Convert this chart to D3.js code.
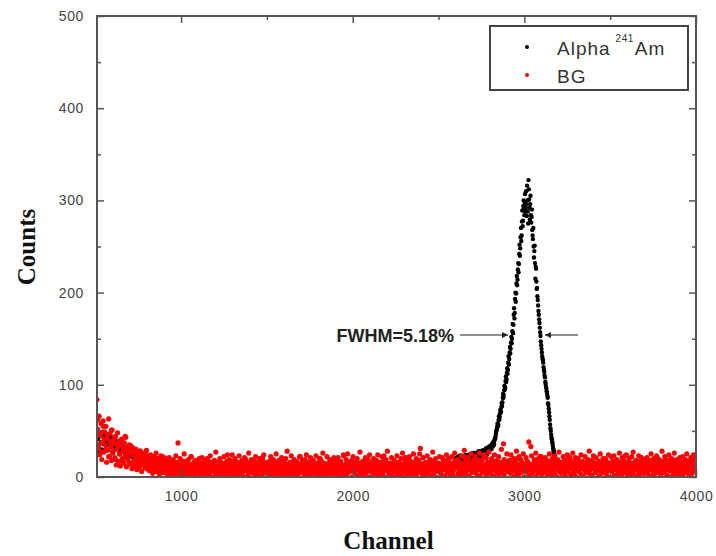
<!DOCTYPE html>
<html><head><meta charset="utf-8">
<script src="https://cdn.jsdelivr.net/npm/d3@7/dist/d3.min.js"></script>
<style>body{margin:0;background:#fff}svg{display:block}</style>
</head><body>
<svg id="c" width="716" height="556"></svg>
<script>
// ---- data ----
const xTicks = [1000, 2000, 3000, 4000];
const xMinorTicks = [1500, 2500, 3500];
const yTicks = [0, 100, 200, 300, 400, 500];
const yMinorTicks = [50, 150, 250, 350, 450];
const seriesNames = ["Alpha", "BG"];

// Alpha 241Am, low-channel part (channels 510, 514, ...)
const alphaLowStart = 510, alphaLowStep = 4;
const alphaLow = [
28,41,33,47,25,44,38,30,49,36, 45,39,48,34,43,37,46,41,35,44,
40,36,43,38,33,41,35,39,31,37, 34,30,36,32,28,35,31,29,33,27,
30,26,29,32,25,28,24,27,30,23, 26,22,25,28,21,24,20,23,26,19,
22,25,19,23,21,18,24,20,17,22, 19,21,17,20,18,22,16,19,17,20,
18,15,19,17,20,16,18,14,17,19, 16,18,14,17,15,19,13,16];

// Alpha 241Am, peak part (channels 2600, 2604, ...)
const alphaPeakStart = 2600, alphaPeakStep = 4;
const alphaPeak = [
18,21,16,19,22,17,20,18,23,19, 20,17,22,19,24,21,18,23,20,22,
22,25,19,23,21,26,22,24,20,25, 24,21,27,23,26,22,28,25,23,27,
27,24,29,26,31,28,25,30,29,33, 31,34,30,36,33,38,35,41,44,49,
52,58,57,66,65,73,71,80,81,90, 89,99,97,109,106,118,116,131,128,141,
139,152,150,166,165,183,178,200,199,218, 214,232,231,252,248,270,262,289,278,300,
284,307,292,296,316,288,322,301,279,305, 276,290,262,270,238,251,215,226,204,196,
186,176,167,157,147,139,131,127,119,114, 108,101,96,91,86,78,70,62,53,46,
41,37,31,28,23,19,16,13,11,9];

// Alpha 241Am, peak part, in-between channels (2602, 2606, ...)
const alphaPeakBStart = 2602, alphaPeakBStep = 4;
const alphaPeakB = [
19,17,21,18,20,23,18,21,19,22, 18,21,20,23,19,22,24,21,19,23,
24,21,23,20,25,22,26,23,21,24, 22,26,24,28,22,25,27,24,26,29,
25,28,27,30,26,29,32,28,31,30, 33,32,35,34,37,36,40,42,47,51,
55,55,62,62,69,70,76,77,86,86, 94,95,104,103,113,112,124,122,135,134,
146,145,158,156,176,172,193,190,210,208, 225,222,242,240,260,256,277,272,294,290,
298,288,310,283,300,275,312,292,296,284, 282,268,258,250,245,232,228,212,205,192,
180,171,162,153,143,135,128,124,116,110, 103,98,93,88,80,74,66,57,50,43,
38,34,29,25,21,17,14,12,10,8];

// Background (channels 510, 514, ...)
const bgStart = 510, bgStep = 4;
const bg = [
84,52,31,66,24,45,58,19,38,61,27,49,35,55,16,42,29,63,22,47,33,18,51,26,40,
36,21,44,13,30,48,17,39,25,12,34,41,20,28,15,37,23,43,11,31,19,26,35,14,29,
24,9,32,17,27,12,21,30,8,25,15,22,11,28,18,6,23,14,20,26,10,16,29,13,19,
21,7,15,24,11,18,4,22,13,9,19,26,6,16,12,20,3,14,23,10,17,5,13,21,8,
12,4,15,9,1,13,7,18,3,11,14,6,10,2,16,8,12,5,37,9,13,0,11,7,15,
6,14,2,10,17,8,12,4,15,1,9,13,22,5,11,7,16,3,12,10,6,14,0,9,13,
3,11,8,15,5,12,1,9,14,7,20,4,13,10,2,16,6,11,8,13,0,15,5,10,12,
9,2,14,7,11,4,16,8,13,1,10,6,15,3,12,24,9,5,14,7,11,2,13,8,17,
4,12,7,15,1,10,13,6,9,3,14,11,5,16,8,0,12,19,7,10,2,15,6,13,9,
11,5,14,8,2,13,10,6,16,3,9,12,7,15,1,11,21,4,13,8,10,5,14,0,12,
7,13,3,10,15,6,12,1,9,14,4,11,8,16,2,12,7,10,5,13,18,3,9,15,6,
14,2,11,8,13,5,10,0,15,7,12,4,9,16,3,11,6,14,1,10,13,22,8,5,12,
6,10,3,14,9,1,12,7,15,4,11,13,2,8,16,6,10,5,12,0,14,9,3,11,20,
8,13,5,10,2,15,7,11,4,14,9,1,12,6,16,10,3,13,8,11,5,17,0,9,14,
3,12,7,15,10,1,13,6,9,24,4,11,14,2,8,12,5,16,10,7,13,0,11,6,15,
10,4,14,8,12,1,9,15,6,11,3,13,7,16,2,10,19,5,12,8,14,0,9,11,6,
13,7,2,11,15,5,9,12,1,14,8,10,4,16,6,12,3,11,23,7,13,9,0,15,10,
5,12,8,14,2,10,13,6,11,0,15,9,4,12,7,16,3,10,14,8,1,11,6,13,21,
9,14,3,11,7,15,10,2,13,6,12,8,16,4,11,1,14,9,5,12,25,7,13,10,3,
12,6,15,9,1,13,10,4,14,8,11,18,2,12,7,16,5,10,13,0,9,15,6,11,14,
7,13,3,10,16,8,12,1,14,9,5,11,20,6,15,2,13,10,4,12,8,17,0,11,14,
10,4,13,8,15,2,11,14,6,9,22,12,3,16,7,10,13,1,15,8,11,5,14,9,19,
6,12,15,3,10,13,8,16,1,11,14,5,9,12,24,7,13,2,15,10,6,11,14,4,17,
13,8,11,1,15,10,6,14,9,12,3,16,7,11,13,5,10,36,2,14,8,12,15,6,11,
9,14,4,12,10,16,7,13,1,11,15,6,20,10,3,14,8,12,5,16,9,11,0,13,7,
12,6,15,10,2,14,8,33,11,4,13,9,16,7,12,1,10,15,5,11,22,8,14,3,13,
10,15,5,12,8,14,1,11,13,6,9,16,3,12,7,19,10,4,14,11,0,13,8,15,6,
11,4,13,9,16,7,12,2,14,10,6,15,8,11,21,3,13,9,12,5,16,10,1,14,7,
8,13,6,15,10,3,12,9,14,1,11,7,16,5,12,10,18,4,13,8,15,2,11,14,9,
12,5,14,10,7,15,1,11,13,8,4,16,9,12,6,20,10,3,14,11,7,13,0,15,9,
6,13,10,15,2,12,8,14,11,4,9,16,7,13,1,10,15,5,12,23,8,14,3,11,9,
14,7,11,3,15,10,5,13,8,16,1,12,9,14,6,11,2,15,10,7,13,19,4,12,8,
10,15,4,12,8,13,1,16,9,11,6,14,3,12,10,7,21,15,5,13,9,2,11,14,6,
13,5,11,8,16,2,12,10,14,7,9,15,1,13,6,11,18,4,14,10,8,12,3,15,9,
11,7,14,2,12,9,15,5,13,10,6,16,1,12,8,14,11,4,13,20,9,7,15];

// Background, further channels (514, 522, ...)
const bgBStart = 514, bgBStep = 8;
const bgB = [
62,35,48,27,55,41,30,46,22,38,51,28,43,19,36,33,25,40,17,31,44,21,29,15,34,
26,14,30,19,24,11,28,17,22,13,25,9,20,16,23,8,18,21,12,19,7,15,22,10,17,
18,9,21,14,6,19,12,23,16,4,20,11,17,25,8,14,19,3,22,13,10,18,15,7,20,
15,21,8,17,12,19,5,23,14,10,18,27,7,16,20,11,13,22,9,17,4,19,14,24,12,
20,10,16,23,7,18,13,21,9,15,26,12,19,6,17,22,11,14,20,8,18,24,13,16,10,
17,22,9,19,14,25,11,18,6,21,15,12,20,28,8,16,23,13,19,10,17,5,22,14,18,
12,19,24,8,16,21,13,18,10,23,15,7,20,17,26,11,14,22,9,19,13,16,21,6,18,
21,14,17,9,23,12,19,25,15,8,18,22,11,16,20,13,27,10,17,14,21,7,19,24,12,
16,20,11,18,24,13,9,22,17,14,19,28,10,15,21,12,18,8,23,16,13,20,26,11,17,
19,13,22,17,10,25,15,20,12,18,31,14,21,9,16,23,11,19,17,27,13,20,8,15,22,
14,21,18,11,24,16,20,9,22,15,26,13,19,17,10,23,14,29,18,12,21,16,25,11,19,
22,15,19,26,12,18,23,10,21,16,27,14,20,17,24,9,18,22,13,30,16,19,11,25,17,
18,24,13,20,16,28,11,22,19,15,25,12,21,17,38,14,23,10,19,26,16,20,13,22,18,
15,21,18,12,25,17,20,9,23,14,19,27,16,11,22,18,13,24,20,10,17,26,14,21,15,
20,13,24,17,10,22,16,19,28,12,18,23,15,21,9,17,25,14,20,11,19,16,24,13,22,
17,23,11,19,15,26,13,21,18,9,24,16,20,12,22,27,14,18,10,23,17,21,15,19,12,
21,14,18,25,12,20,16,23,10,19,15,28,17,22,13,18,24,11,20,16,26,14,19,12,21,
16,22,13,19,25,17,11,21,18,24,15];

// FWHM annotation
const fwhmText = "FWHM=5.18%";
const fwhmLevel = 154;                 // counts at half maximum
const fwhmEdges = [2928, 3091];        // channels of the two half-max edges

// ---- layout ----
const svg = d3.select("#c");
const L = 97, R = 696, T = 16, B = 477;
const x = d3.scaleLinear().domain([510, 4000]).range([L, R]);
const y = d3.scaleLinear().domain([0, 500]).range([B, T]);

const toPts = (arr, start, step) => arr.map((v, i) => ({c: start + i * step, v}));
const alphaPts = toPts(alphaLow, alphaLowStart, alphaLowStep)
  .concat(toPts(alphaPeak, alphaPeakStart, alphaPeakStep))
  .concat(toPts(alphaPeakB, alphaPeakBStart, alphaPeakBStep));
const bgPts = toPts(bg, bgStart, bgStep).concat(toPts(bgB, bgBStart, bgBStep));

svg.append("clipPath").attr("id", "clip").append("rect")
  .attr("x", L).attr("y", T).attr("width", R - L).attr("height", B - T);

const plot = svg.append("g").attr("clip-path", "url(#clip)");
plot.append("g").selectAll("circle").data(alphaPts).join("circle")
  .attr("cx", d => x(d.c)).attr("cy", d => y(d.v)).attr("r", 2.2).attr("fill", "#000");
plot.append("g").selectAll("circle").data(bgPts).join("circle")
  .attr("cx", d => x(d.c)).attr("cy", d => y(d.v)).attr("r", 2.6).attr("fill", "#ff0000");

// ---- axes (ticks inward) ----
const axisColor = "#555";
function styleAxis(g) {
  g.select(".domain").remove();
  g.selectAll(".tick line").attr("stroke", axisColor).attr("stroke-width", 1.5);
  g.selectAll(".tick text").attr("fill", "#444").style("font-family", "Arial, 'Liberation Sans', sans-serif")
    .style("font-size", "14px").style("letter-spacing", "0.6px");
}
svg.append("g").attr("transform", `translate(0,${B})`)
  .call(d3.axisBottom(x).tickValues(xTicks).tickSizeInner(-7).tickPadding(14).tickFormat(d3.format("d")))
  .call(styleAxis);
svg.append("g").attr("transform", `translate(0,${B})`)
  .call(d3.axisBottom(x).tickValues(xMinorTicks).tickSizeInner(-4).tickFormat(""))
  .call(styleAxis);
svg.append("g").attr("transform", `translate(0,${T})`)
  .call(d3.axisTop(x).tickValues(xTicks).tickSizeInner(-7).tickFormat(""))
  .call(styleAxis);
svg.append("g").attr("transform", `translate(0,${T})`)
  .call(d3.axisTop(x).tickValues(xMinorTicks).tickSizeInner(-4).tickFormat(""))
  .call(styleAxis);
svg.append("g").attr("transform", `translate(${L},0)`)
  .call(d3.axisLeft(y).tickValues(yTicks).tickSizeInner(-7).tickPadding(13).tickFormat(d3.format("d")))
  .call(styleAxis);
svg.append("g").attr("transform", `translate(${L},0)`)
  .call(d3.axisLeft(y).tickValues(yMinorTicks).tickSizeInner(-4).tickFormat(""))
  .call(styleAxis);
svg.append("g").attr("transform", `translate(${R},0)`)
  .call(d3.axisRight(y).tickValues(yTicks).tickSizeInner(-7).tickFormat(""))
  .call(styleAxis);
svg.append("g").attr("transform", `translate(${R},0)`)
  .call(d3.axisRight(y).tickValues(yMinorTicks).tickSizeInner(-4).tickFormat(""))
  .call(styleAxis);

svg.append("rect").attr("x", L).attr("y", T).attr("width", R - L).attr("height", B - T)
  .attr("fill", "none").attr("stroke", axisColor).attr("stroke-width", 2);

// axis titles
svg.append("text").attr("x", (L + R) / 2 - 8).attr("y", 549).attr("text-anchor", "middle")
  .style("font-family", "'Liberation Serif', 'Times New Roman', serif").style("font-weight", "bold")
  .style("font-size", "25px").attr("fill", "#111").text("Channel");
svg.append("text").attr("transform", "translate(35,247) rotate(-90)").attr("text-anchor", "middle")
  .style("font-family", "'Liberation Serif', 'Times New Roman', serif").style("font-weight", "bold")
  .style("font-size", "25px").attr("fill", "#111").text("Counts");

// ---- FWHM annotation ----
const defs = svg.append("defs");
defs.append("marker").attr("id", "arr").attr("viewBox", "0 0 10 10").attr("refX", 10).attr("refY", 5)
  .attr("markerWidth", 7).attr("markerHeight", 6).attr("markerUnits", "userSpaceOnUse").attr("orient", "auto")
  .append("path").attr("d", "M0,0L10,5L0,10z").attr("fill", "#222");
const fy = y(fwhmLevel);
svg.append("line").attr("x1", x(fwhmEdges[0]) - 52).attr("x2", x(fwhmEdges[0]) - 4)
  .attr("y1", fy).attr("y2", fy).attr("stroke", "#222").attr("stroke-width", 1.2).attr("marker-end", "url(#arr)");
svg.append("line").attr("x1", x(fwhmEdges[1]) + 38).attr("x2", x(fwhmEdges[1]) + 5)
  .attr("y1", fy).attr("y2", fy).attr("stroke", "#222").attr("stroke-width", 1.2).attr("marker-end", "url(#arr)");
svg.append("text").attr("x", x(fwhmEdges[0]) - 58).attr("y", fy + 7).attr("text-anchor", "end")
  .style("font-family", "Arial, 'Liberation Sans', sans-serif").style("font-size", "18px").style("font-weight", "bold")
  .attr("fill", "#222").text(fwhmText);

// ---- legend ----
const lg = svg.append("g");
lg.append("rect").attr("x", 490).attr("y", 26).attr("width", 198).attr("height", 64)
  .attr("fill", "#fff").attr("stroke", "#444").attr("stroke-width", 2);
const legendColors = ["#000", "#ff0000"];
seriesNames.forEach((n, i) => {
  const cy = 47 + i * 28;
  lg.append("circle").attr("cx", 527).attr("cy", cy).attr("r", 2).attr("fill", legendColors[i]);
  const t = lg.append("text").attr("x", 557).attr("y", cy + 8)
    .style("font-family", "Arial, 'Liberation Sans', sans-serif").style("font-size", "19px")
    .style("letter-spacing", "1px").attr("fill", "#333");
  t.append("tspan").text(n);
  if (i === 0) {
    t.append("tspan").attr("dx", 5).attr("dy", -13).style("font-size", "10px").style("letter-spacing", "0.5px").text("241");
    t.append("tspan").attr("dx", 1).attr("dy", 13).text("Am");
  }
});
</script>
</body></html>
